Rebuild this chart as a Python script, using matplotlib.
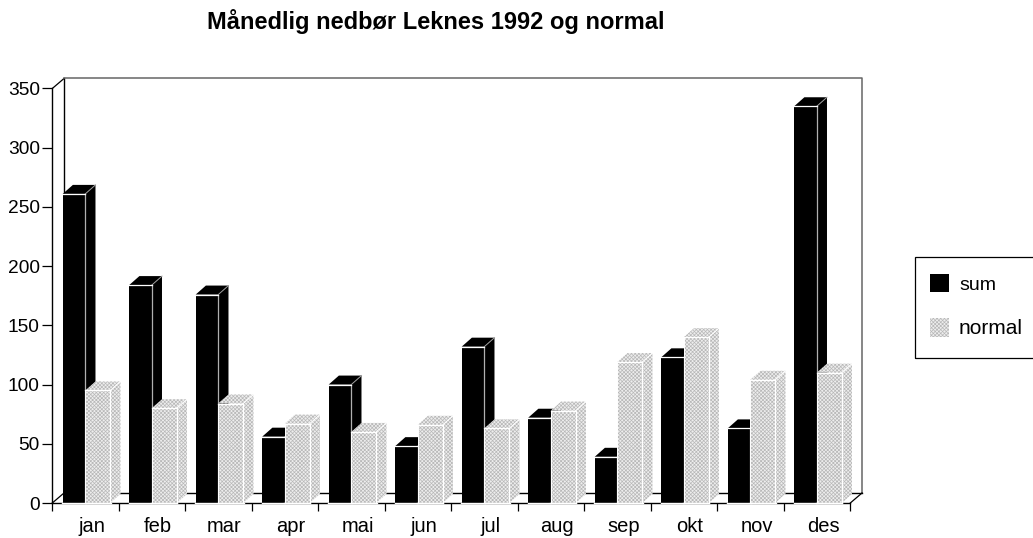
import matplotlib
matplotlib.use("Agg")
import matplotlib.pyplot as plt
from matplotlib.patches import Rectangle

plt.rcParams['font.family'] = ['Liberation Sans', 'DejaVu Sans']
plt.rcParams['hatch.linewidth'] = 0.5

months = ["jan", "feb", "mar", "apr", "mai", "jun", "jul", "aug", "sep", "okt", "nov", "des"]
sum_values = [261, 184, 176, 56, 100, 48, 132, 72, 39, 123, 63, 335]
normal_values = [95, 80, 84, 67, 60, 66, 63, 78, 119, 140, 104, 110]
y_ticks = [0, 50, 100, 150, 200, 250, 300, 350]
title_text = "Månedlig nedbør Leknes 1992 og normal"

W, H = 1033, 538
X0, X1, Y0, Y350 = 52.3, 850.3, 503.0, 88.5
fig = plt.figure(figsize=(W / 100, H / 100), dpi=100)
ax = fig.add_axes([X0 / W, 1 - Y0 / H, (X1 - X0) / W, (Y0 - Y350) / H])
ax.set_xlim(0, 12)
ax.set_ylim(0, 350)
ax.patch.set_visible(False)
for s in ("top", "right"):
    ax.spines[s].set_visible(False)
for s in ("left", "bottom"):
    ax.spines[s].set_color("black")
    ax.spines[s].set_linewidth(1.0)

# depth of the box walls and of the bars, in data units
WX = 11.7 / 66.5
WY = 10.0 / 1.184
DX = 10.2 / 66.5
DY = 9.0 / 1.184
BAR_L = 0.156
SUM_W = 0.34
NORM_W = 0.375

ax.plot([0, WX], [350, 350 + WY], color="black", lw=0.9, clip_on=False, zorder=1)
ax.plot([WX, WX], [WY, 350 + WY], color="black", lw=1.0, clip_on=False, zorder=1)
ax.plot([WX, 12 + WX, 12 + WX], [350 + WY, 350 + WY, WY], color="#666666", lw=1.1, clip_on=False, zorder=1)
ax.plot([0, WX], [0, WY], color="black", lw=0.9, clip_on=False, zorder=1)
ax.plot([12, 12 + WX], [0, WY], color="black", lw=0.9, clip_on=False, zorder=1)
ax.plot([WX, 12 + WX], [WY, WY], color="black", lw=1.0, clip_on=False, zorder=1)

PAT = dict(facecolor="#eeeeee", edgecolor="#b8b8b8", hatch="xxxxxxxxx", linewidth=0)


def box(x, w, h, z, dark):
    top = [(x, h), (x + w, h), (x + w + DX, h + DY), (x + DX, h + DY)]
    side = [(x + w, 0), (x + w + DX, DY), (x + w + DX, h + DY), (x + w, h)]
    style = dict(facecolor="black", edgecolor="none", linewidth=0) if dark else PAT
    ax.fill(*zip(*side), clip_on=False, zorder=z, **style)
    ax.fill(*zip(*top), clip_on=False, zorder=z, **style)
    ax.bar(x, h, w, align="edge", clip_on=False, zorder=z, **style)
    # front-face highlight edges
    edge = "#b0b0b0" if dark else "white"
    ax.plot([x + w, x + w], [0, h], color=edge, lw=0.9, clip_on=False, zorder=z + 0.1)
    ax.plot([x + w, x + w + DX], [h, h + DY], color="white" if not dark else "#999999", lw=0.7,
            clip_on=False, zorder=z + 0.1)
    ax.plot([x, x + w], [h, h], color="white", lw=0.9, clip_on=False, zorder=z + 0.1)
    if not dark:
        ax.plot([x, x], [0, h], color="white", lw=0.7, clip_on=False, zorder=z + 0.1)
    ax.plot([x - 0.01, x + w + 0.01], [0, 0], color="white", lw=1.0, clip_on=False, zorder=z + 0.1)


for i, (a, b) in enumerate(zip(sum_values, normal_values)):
    box(i + BAR_L, SUM_W, a, 3 + 2 * i, True)
    box(i + BAR_L + SUM_W, NORM_W, b, 4 + 2 * i, False)

ax.set_yticks(y_ticks)
ax.set_yticklabels([str(v) for v in y_ticks], fontsize=13.8)
ax.set_xticks(range(13))
ax.set_xticklabels([])
ax.set_xticks([i + 0.59 for i in range(12)], minor=True)
ax.set_xticklabels(months, minor=True, fontsize=14.5)
ax.tick_params(axis="x", which="minor", length=0, pad=10)
ax.tick_params(axis="x", which="major", length=6, width=0.9)
ax.tick_params(axis="y", length=7, width=0.9, pad=2)

fig.text(435.5 / W, 1 - 21.5 / H, title_text, ha="center", va="center", fontsize=17, fontweight="bold")

# legend (its frame runs off the right edge of the picture)
fig.add_artist(Rectangle((914.7 / W, 1 - 358 / H), 130 / W, 101 / H, transform=fig.transFigure,
                         fill=False, edgecolor="black", linewidth=0.9))
fig.add_artist(Rectangle((930 / W, 1 - 292 / H), 18.7 / W, 18 / H, transform=fig.transFigure,
                         facecolor="black", edgecolor="none"))
fig.add_artist(Rectangle((930 / W, 1 - 337 / H), 19 / W, 19 / H, transform=fig.transFigure, **PAT))
fig.text(959 / W, 1 - 285.5 / H, "sum", ha="left", va="center", fontsize=14)
fig.text(959 / W, 1 - 329 / H, "normal", ha="left", va="center", fontsize=15)

fig.savefig("out.png", dpi=100)
